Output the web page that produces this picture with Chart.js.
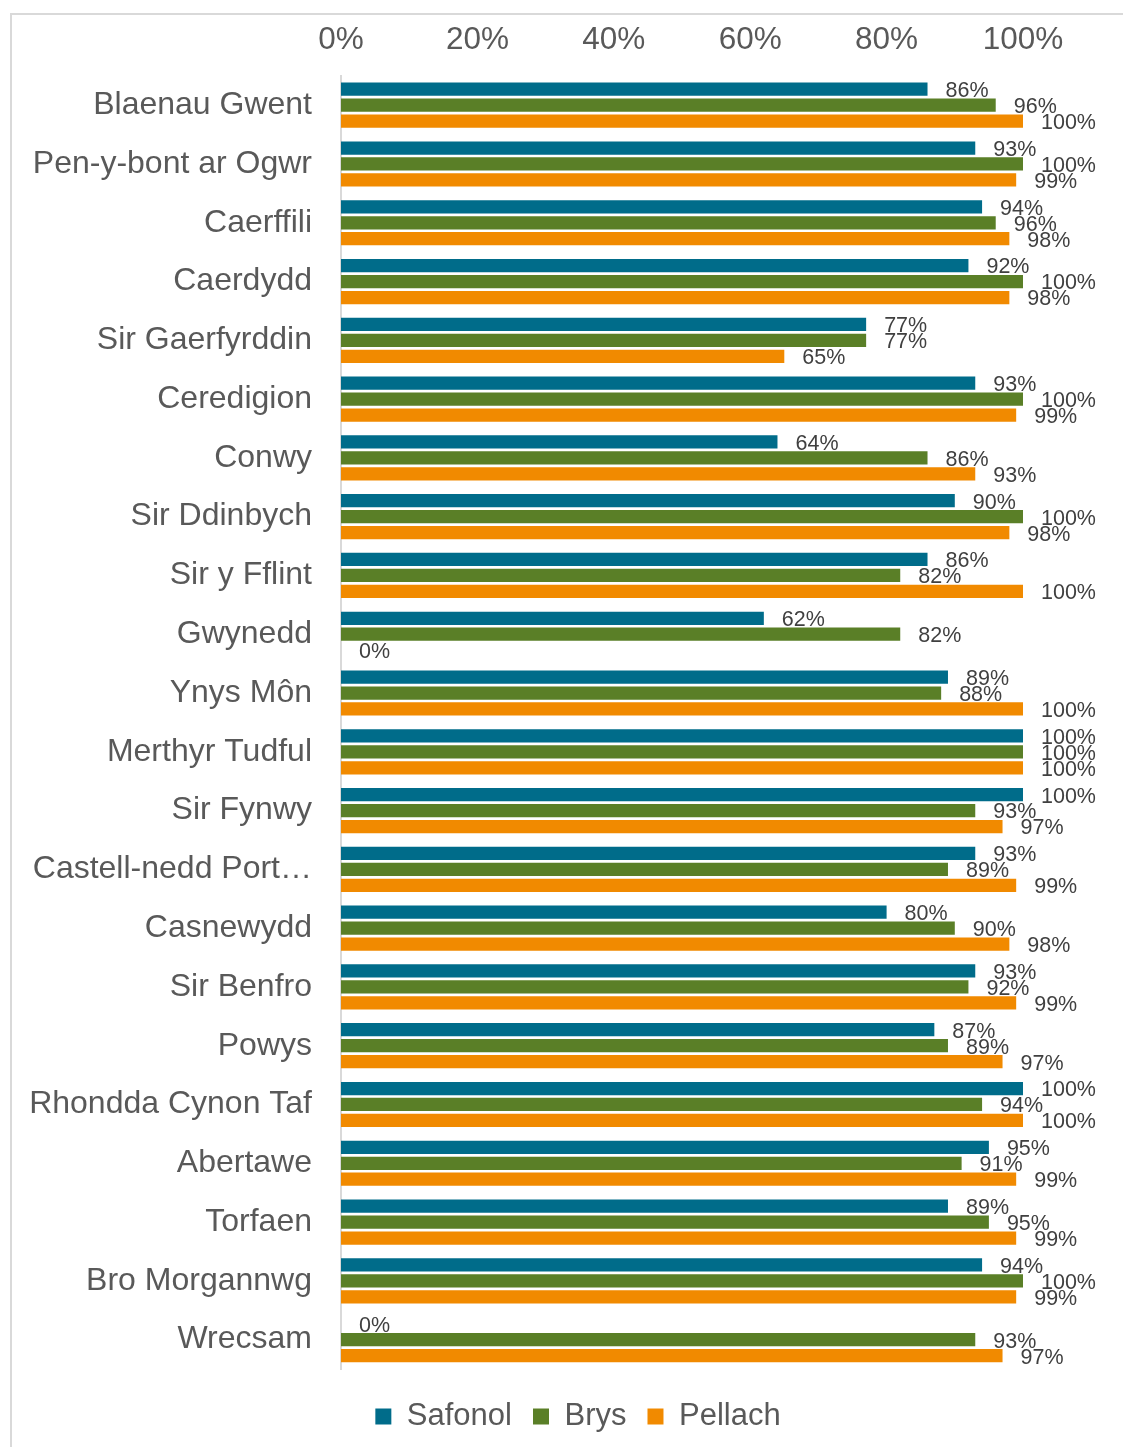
<!DOCTYPE html>
<html>
<head>
<meta charset="utf-8">
<script src="https://cdn.jsdelivr.net/npm/chart.js@4/dist/chart.umd.min.js"></script>
<style>
  html, body { margin: 0; padding: 0; background: #fff; }
  canvas { display: block; }
</style>
</head>
<body>
<canvas id="chart" width="1123" height="1447"></canvas>
<script>
// Awdurdodau lleol, a'r canran ar gyfer pob math (Safonol / Brys / Pellach)
const categories = [
  "Blaenau Gwent", "Pen-y-bont ar Ogwr", "Caerffili", "Caerdydd", "Sir Gaerfyrddin",
  "Ceredigion", "Conwy", "Sir Ddinbych", "Sir y Fflint", "Gwynedd", "Ynys Môn",
  "Merthyr Tudful", "Sir Fynwy", "Castell-nedd Port Talbot", "Casnewydd", "Sir Benfro",
  "Powys", "Rhondda Cynon Taf", "Abertawe", "Torfaen", "Bro Morgannwg", "Wrecsam"
];
const safonol = [86, 93, 94, 92, 77, 93, 64, 90, 86, 62, 89, 100, 100, 93, 80, 93, 87, 100, 95, 89, 94, 0];
const brys    = [96, 100, 96, 100, 77, 100, 86, 100, 82, 82, 88, 100, 93, 89, 90, 92, 89, 94, 91, 95, 100, 93];
const pellach = [100, 99, 98, 98, 65, 99, 93, 98, 100, 0, 100, 100, 97, 99, 98, 99, 97, 100, 99, 99, 99, 97];
const xTicks = [0, 20, 40, 60, 80, 100];

const FONT = '"Liberation Sans", Arial, sans-serif';
const GREY = "#595959";

// light frame round the chart, open at right and bottom like the source
const frame = {
  id: "frame",
  beforeDraw(chart) {
    const ctx = chart.ctx;
    ctx.save();
    ctx.strokeStyle = "#d9d9d9";
    ctx.lineWidth = 2;
    ctx.strokeRect(11, 14, 1300, 1600);
    ctx.restore();
  }
};

// centre the legend under the plot area and drop it a little
const legendPlace = {
  id: "legendPlace",
  afterLayout(chart) {
    const lg = chart.legend;
    if (!lg) return;
    lg.left = 133;
    lg.right = chart.chartArea.right;
    lg.top += 11;
    lg.bottom += 11;
  }
};

// value labels just past the end of each bar
const valueLabels = {
  id: "valueLabels",
  afterDatasetsDraw(chart) {
    const ctx = chart.ctx;
    ctx.save();
    ctx.font = "21.5px " + FONT;
    ctx.fillStyle = "#404040";
    ctx.textAlign = "left";
    ctx.textBaseline = "middle";
    chart.data.datasets.forEach((ds, i) => {
      chart.getDatasetMeta(i).data.forEach((bar, j) => {
        ctx.fillText(ds.data[j] + "%", bar.x + 18, bar.y + 2);
      });
    });
    ctx.restore();
  }
};

new Chart(document.getElementById("chart").getContext("2d"), {
  type: "bar",
  data: {
    labels: categories,
    datasets: [
      { label: "Safonol", data: safonol, backgroundColor: "#006c8a" },
      { label: "Brys", data: brys, backgroundColor: "#5a7f27" },
      { label: "Pellach", data: pellach, backgroundColor: "#f18a00" }
    ]
  },
  options: {
    indexAxis: "y",
    responsive: false,
    animation: false,
    devicePixelRatio: 1,
    datasets: { bar: { categoryPercentage: 0.815, barPercentage: 0.83 } },
    layout: { padding: { top: 4, left: 10, right: 100, bottom: 16 } },
    plugins: {
      legend: {
        position: "bottom",
        labels: { boxWidth: 16, boxHeight: 16, padding: 21, color: GREY, font: { family: FONT, size: 31 } }
      },
      tooltip: { enabled: false }
    },
    scales: {
      x: {
        position: "top",
        min: 0, max: 100,
        afterBuildTicks: ax => { ax.ticks = xTicks.map(v => ({ value: v })); },
        grid: { display: false, drawTicks: false },
        border: { display: false },
        ticks: { padding: 17, color: GREY, font: { family: FONT, size: 31.5 }, callback: v => v + "%" }
      },
      y: {
        afterFit: ax => { ax.width = 331; },
        grid: { display: false, drawTicks: false },
        border: { display: true, color: "#d9d9d9", width: 2 },
        ticks: {
          padding: 29, color: GREY, font: { family: FONT, size: 32 }, autoSkip: false,
          callback: function (v) {
            const s = this.getLabelForValue(v);
            return s.length > 18 ? s.slice(0, 17) + "…" : s;
          }
        }
      }
    }
  },
  plugins: [frame, legendPlace, valueLabels]
});
</script>
</body>
</html>
